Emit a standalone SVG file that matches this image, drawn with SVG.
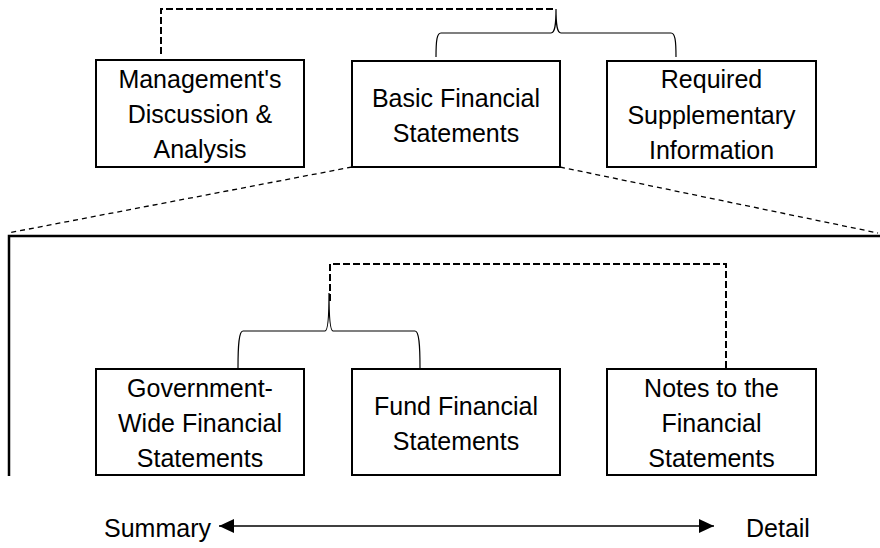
<svg xmlns="http://www.w3.org/2000/svg" width="880" height="548" viewBox="0 0 880 548">
<defs>
<style>
.box{fill:#fff;stroke:#000;stroke-width:2}
.t{font-family:"Liberation Sans",Arial,sans-serif;font-size:25px;fill:#000;text-anchor:middle}
.lbl{font-family:"Liberation Sans",Arial,sans-serif;font-size:25px;fill:#000}
.dash{fill:none;stroke:#000;stroke-width:2;stroke-dasharray:7,3}
.proj{fill:none;stroke:#000;stroke-width:1.3;stroke-dasharray:5,4}
.brace{fill:none;stroke:#000;stroke-width:1.2}
.frame{fill:none;stroke:#000;stroke-width:2.5}
</style>
<marker id="ah" viewBox="0 0 15 14" refX="15" refY="7" markerWidth="15" markerHeight="14" markerUnits="userSpaceOnUse" orient="auto-start-reverse">
<path d="M0,0 L15,7 L0,14 Z" fill="#000"/>
</marker>
</defs>
<rect width="880" height="548" fill="#fff"/>
<g id="connectors">
<path class="dash" d="M161,54 V9 H555"/>
<path class="brace" d="M436,57 C436,40 437,33 441,33 L551,33 C555,33 556,25 556,9 C556,25 557,33 561,33 L671,33 C675,33 676,40 676,57"/>
<path class="proj" d="M352,167 L8,233"/>
<path class="proj" d="M560,167 L878,233"/>
<path class="frame" d="M9,476 V236 H880"/>
<path class="dash" d="M330,301 V264 H726 V369"/>
<path class="brace" d="M238,368 C238,345 239,331 243,331 L325,331 C328,331 329,315 329,293 C329,315 330,331 333,331 L415,331 C419,331 420,345 420,368"/>
<line x1="219" y1="526" x2="714" y2="526" stroke="#000" stroke-width="1.5" marker-start="url(#ah)" marker-end="url(#ah)"/>
</g>
<g id="mda">
<rect class="box" x="96" y="60" width="208" height="107"/>
<text class="t" x="200" y="88">Management's</text>
<text class="t" x="200" y="123">Discussion &amp;</text>
<text class="t" x="200" y="158">Analysis</text>
</g>
<g id="bfs">
<rect class="box" x="352" y="61" width="208" height="106"/>
<text class="t" x="456" y="107">Basic Financial</text>
<text class="t" x="456" y="142">Statements</text>
</g>
<g id="rsi">
<rect class="box" x="607" y="61" width="209" height="106"/>
<text class="t" x="711.5" y="88">Required</text>
<text class="t" x="711.5" y="124">Supplementary</text>
<text class="t" x="711.5" y="159">Information</text>
</g>
<g id="gwfs">
<rect class="box" x="96" y="369" width="208" height="106"/>
<text class="t" x="200" y="397">Government-</text>
<text class="t" x="200" y="432">Wide Financial</text>
<text class="t" x="200" y="467">Statements</text>
</g>
<g id="ffs">
<rect class="box" x="352" y="369" width="208" height="106"/>
<text class="t" x="456" y="415">Fund Financial</text>
<text class="t" x="456" y="450">Statements</text>
</g>
<g id="notes">
<rect class="box" x="607" y="369" width="209" height="106"/>
<text class="t" x="711.5" y="397">Notes to the</text>
<text class="t" x="711.5" y="432">Financial</text>
<text class="t" x="711.5" y="467">Statements</text>
</g>
<g id="scale">
<text class="lbl" x="104" y="537">Summary</text>
<text class="lbl" x="746" y="537">Detail</text>
</g>
</svg>
